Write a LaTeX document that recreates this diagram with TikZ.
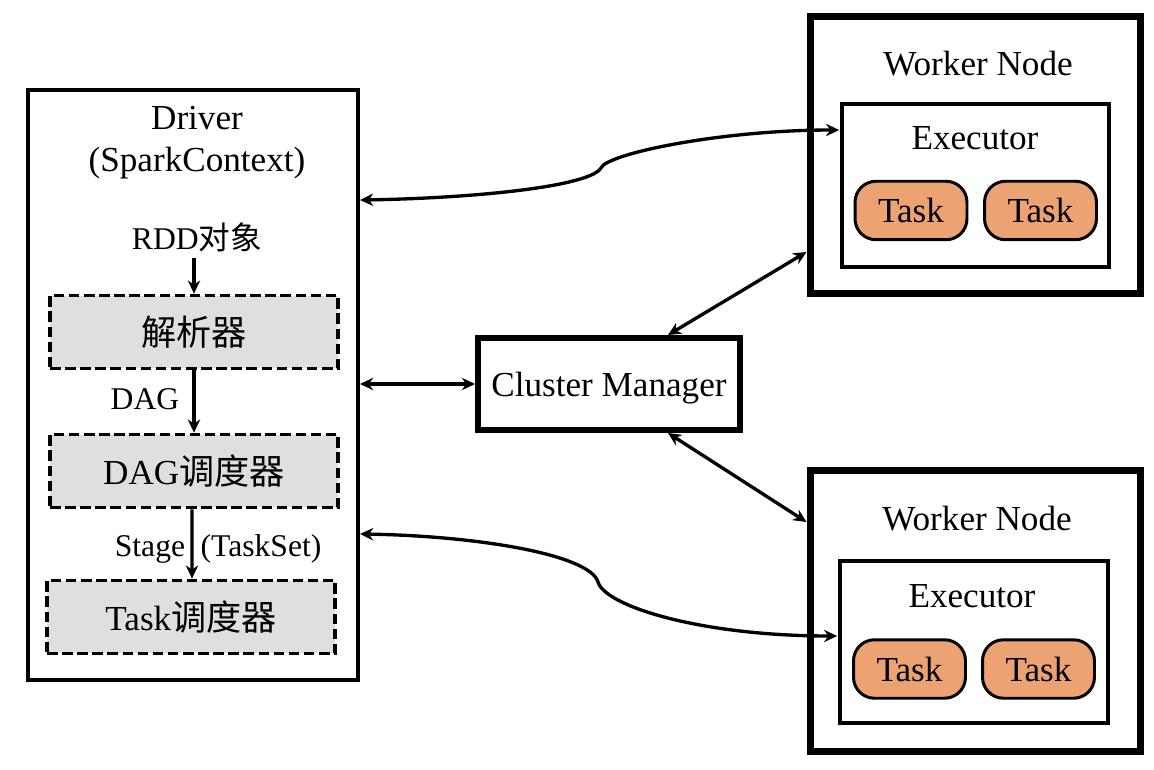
\documentclass[tikz,border=0pt]{standalone}
\usepackage{fontspec}
\setmainfont{Liberation Serif}
\newfontfamily\cjk{Noto Sans CJK SC}
\usetikzlibrary{arrows.meta}

\definecolor{schedgray}{RGB}{224,222,222}
\definecolor{taskorange}{RGB}{237,162,115}

\tikzset{
    bigtext/.style={font=\fontsize{20}{24}\selectfont},
    smalltext/.style={font=\fontsize{18}{22}\selectfont},
    frame/.style={draw, line width=#1, inner sep=0pt},
    sched/.style={draw, fill=schedgray, line width=2.1pt, dash pattern=on 6pt off 2.6pt,
        minimum width=5.76cm, minimum height=1.46cm, bigtext},
    taskpill/.style={draw, fill=taskorange, line width=1.7pt, rounded corners=0.42cm,
        minimum width=2.24cm, minimum height=1.17cm, bigtext},
    link/.style={line width=1.9pt, {Stealth[length=7.5pt, width=7pt]}-{Stealth[length=7.5pt, width=7pt]}},
    flow/.style={line width=1.9pt, -{Stealth[length=7.5pt, width=7pt]}}
}

\begin{document}
\begin{tikzpicture}[x=0.02cm, y=-0.02cm]
    \useasboundingbox (0, 0) rectangle (1154, 770);

    % driver side
    \node[frame=2.3pt, minimum width=6.6cm, minimum height=11.8cm] (driver) at (193, 385) {};
    \node[align=center, bigtext] (drvlabel) at (197, 143) {Driver\\(SparkContext)};
    \node[smalltext] (rdd) at (197, 237) {RDD{\cjk 对象}};
    \node[sched] (parser) at (194, 332) {{\cjk 解析器}};
    \node[sched] (dagsched) at (194, 471) {DAG{\cjk 调度器}};
    \node[sched] (tasksched) at (191, 617) {Task{\cjk 调度器}};
    \node[smalltext] (daglabel) at (145, 399) {DAG};
    \node[smalltext] (stage) at (150, 549) {Stage};
    \node[smalltext] (taskset) at (261, 549) {(TaskSet)};
    \draw[flow] (rdd.south -| parser.north) -- (parser.north);
    \draw[flow] (parser.south) -- (dagsched.north);
    \draw[flow] ([xshift=-0.04cm]dagsched.south) -- ([xshift=0.02cm]tasksched.north);

    % cluster manager
    \node[frame=3.4pt, minimum width=5.24cm, minimum height=1.84cm, text depth=0pt, bigtext] (cm) at (609, 384) {Cluster Manager};

    % worker nodes
    \node[frame=4pt, minimum width=6.62cm, minimum height=5.56cm] (worker1) at (975.5, 155) {};
    \node[bigtext] (wlabel1) at (978, 64) {Worker Node};
    \node[frame=2.1pt, minimum width=5.34cm, minimum height=3.26cm] (exec1) at (975.5, 185.5) {};
    \node[bigtext] (elabel1) at (975, 138) {Executor};
    \node[taskpill] (task11) at (911, 210.5) {Task};
    \node[taskpill] (task12) at (1040.5, 210.5) {Task};

    \node[frame=4pt, minimum width=6.62cm, minimum height=5.64cm] (worker2) at (975.5, 611) {};
    \node[bigtext] (wlabel2) at (977, 519) {Worker Node};
    \node[frame=2.1pt, minimum width=5.36cm, minimum height=3.24cm] (exec2) at (974, 642) {};
    \node[bigtext] (elabel2) at (972, 596) {Executor};
    \node[taskpill] (task21) at (909.5, 669) {Task};
    \node[taskpill] (task22) at (1038.5, 669) {Task};

    % connectors
    \draw[link] (driver.east |- cm.west) -- (cm.west);
    \draw[link] ([xshift=1.18cm]cm.north) -- ([yshift=-1.94cm]worker1.west);
    \draw[link] ([xshift=1.18cm]cm.south) -- ([yshift=1.78cm]worker2.west);
    \draw[link] ([yshift=3.7cm]driver.east) .. controls (480, 198) and (590, 186) .. (601, 168)
        .. controls (606, 154) and (720, 130) .. ([xshift=-0.02cm, yshift=1.11cm]exec1.west);
    \draw[link] ([yshift=-2.98cm]driver.east) .. controls (480, 536) and (590, 555) .. (598, 582)
        .. controls (605, 606) and (700, 636) .. ([xshift=-0.02cm, yshift=0.12cm]exec2.west);
\end{tikzpicture}
\end{document}
